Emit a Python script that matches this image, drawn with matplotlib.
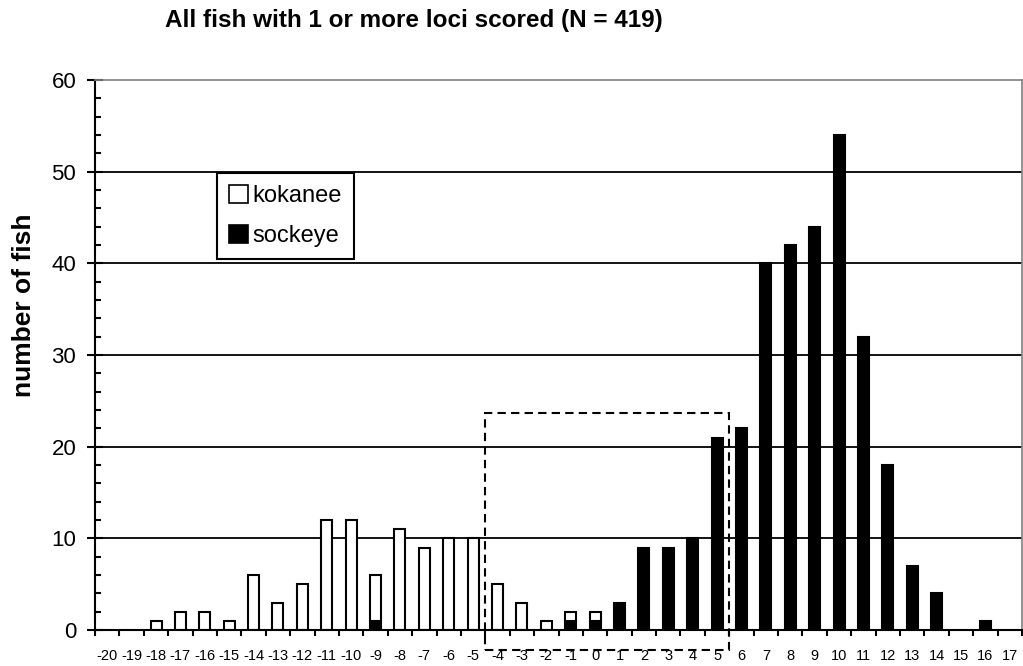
import numpy as np
import matplotlib
matplotlib.use("Agg")
import matplotlib.pyplot as plt
from matplotlib.patches import Patch, Rectangle

# data
scores = np.arange(-20, 18)
kokanee = [0, 0, 1, 2, 2, 1, 6, 3, 5, 12, 12, 5, 11, 9, 10, 10, 5, 3, 1, 1, 1,
           0, 0, 0, 0, 0, 0, 0, 0, 0, 0, 0, 0, 0, 0, 0, 0, 0]
sockeye = [0, 0, 0, 0, 0, 0, 0, 0, 0, 0, 0, 1, 0, 0, 0, 0, 0, 0, 0, 1, 1,
           3, 9, 9, 10, 21, 22, 40, 42, 44, 54, 32, 18, 7, 4, 0, 1, 0]
title = "All fish with 1 or more loci scored (N = 419)"
box_x = (-4.5, 5.5)
box_y = (-2.2, 23.7)

plt.rcParams["font.family"] = ["Liberation Sans", "DejaVu Sans"]

fig = plt.figure(figsize=(10.23, 6.66), dpi=100)
ax = fig.add_axes([0.0929, 0.054, 0.9061, 0.8259])

kok = np.array(kokanee)
soc = np.array(sockeye)
w = 0.45
m = soc > 0
ax.bar(scores[m], soc[m], width=w, color="black", edgecolor="black", lw=1.5, zorder=2)
m = kok > 0
ax.bar(scores[m], kok[m], width=w, bottom=soc[m], color="white", edgecolor="black",
       lw=1.5, zorder=2)

ax.set_xlim(-20.5, 17.5)
ax.set_ylim(0, 60)

# gridlines
for y in range(10, 60, 10):
    ax.axhline(y, color="black", lw=1.3, zorder=1)

# spines
ax.spines["left"].set_linewidth(1.5)
ax.spines["bottom"].set_linewidth(1.5)
for s in ["top", "right"]:
    ax.spines[s].set_color("#808080")
    ax.spines[s].set_linewidth(1.2)

# y ticks
ax.set_yticks(range(0, 61, 10))
ax.set_yticks(range(0, 61, 2), minor=True)
ax.tick_params(axis="y", which="major", direction="inout", length=11, width=1.5,
               labelsize=16, pad=8)
ax.tick_params(axis="y", which="minor", direction="in", length=4.5, width=1.5)

# x ticks: labels on categories, tick marks between them
ax.set_xticks(scores)
ax.set_xticklabels([str(s) for s in scores])
ax.set_xticks(np.arange(-20.5, 18, 1), minor=True)
ax.tick_params(axis="x", which="major", length=0, labelsize=10.5, pad=14)
ax.tick_params(axis="x", which="minor", direction="out", length=4.5, width=1.5)

# dashed box
ax.add_patch(Rectangle((box_x[0], box_y[0]), box_x[1] - box_x[0], box_y[1] - box_y[0],
                       fill=False, ls=(0, (4, 2.5)), lw=1.5, ec="black",
                       clip_on=False, zorder=5))

# legend
handles = [Patch(fc="white", ec="black", lw=1.2, label="kokanee"),
           Patch(fc="black", ec="black", lw=1.2, label="sockeye")]
leg = ax.legend(handles=handles, loc="upper left", bbox_to_anchor=(0.1316, 0.831),
                borderaxespad=0, fancybox=False, framealpha=1, edgecolor="black",
                handlelength=0.8, handleheight=0.8, handletextpad=0.2,
                labelspacing=0.75, borderpad=0.5, prop={"size": 17})
leg.get_frame().set_linewidth(1.5)

fig.text(0.405, 1 - 20 / 666, title, ha="center", va="center", fontsize=17.5,
         fontweight="bold")
fig.text(24 / 1023, 1 - 305 / 666, "number of fish", ha="center", va="center",
         rotation=90, fontsize=19, fontweight="bold")

fig.savefig("out.png", dpi=100)
